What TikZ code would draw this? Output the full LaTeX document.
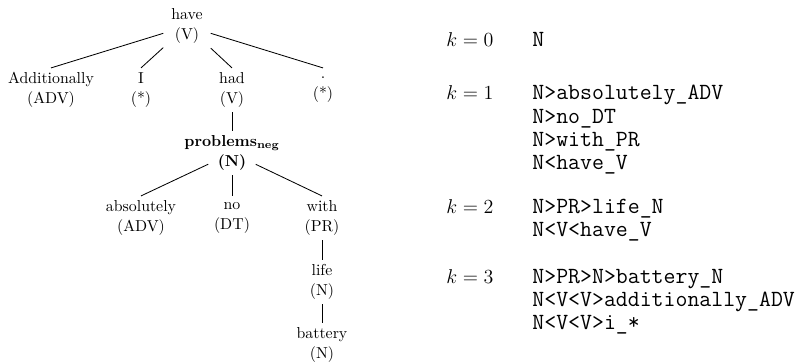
\documentclass[tikz,border=0pt]{standalone}
\usepackage{amsmath}
\usepackage{tikz}
\usetikzlibrary{positioning}
\newcommand\tk[2]{\makebox[0pt]{#1}\\\makebox[0pt]{#2}}

\begin{document}
\begin{tikzpicture}[x=0.6pt,y=-0.6pt,line width=0.5pt]
\tikzset{tok/.style={align=center,inner sep=0pt,minimum width=28pt,minimum height=26pt,font=\fontsize{9.5}{12}\selectfont},
 klab/.style={anchor=base west,inner sep=0pt,font=\fontsize{12.3}{15}\selectfont},
 pth/.style={anchor=base west,inner sep=0pt,font=\fontsize{13.9}{16}\ttfamily}}
\useasboundingbox (0,0) rectangle (796,362);
% dependency tree
\node[tok] (have) at (187,26) {\tk{have}{(V)}};
\node[tok] (add) at (51,90) {\tk{Additionally}{(ADV)}};
\node[tok] (i) at (141,90) {\tk{I}{(*)}};
\node[tok] (had) at (232,90) {\tk{had}{(V)}};
\node[tok] (dot) at (323,90) {\tk{.}{(*)}};
\node[tok] (prob) at (232,153) {\tk{\textbf{problems}$_{\textbf{neg}}$}{\textbf{(N)}}};
\node[tok] (abs) at (141,218) {\tk{absolutely}{(ADV)}};
\node[tok] (no) at (232,218) {\tk{no}{(DT)}};
\node[tok] (with) at (322,218) {\tk{with}{(PR)}};
\node[tok] (life) at (322,282) {\tk{life}{(N)}};
\node[tok] (bat) at (322,345) {\tk{battery}{(N)}};
\draw (have) -- (add.north);
\draw (have) -- (i.north);
\draw (have) -- (had.north);
\draw (have) -- (dot.north);
\draw (had) -- (prob);
\draw (prob) -- (abs.north);
\draw (prob) -- (no.north);
\draw (prob) -- (with.north);
\draw (with) -- (life);
\draw (life) -- (bat);
% paths per k
\node[klab] (k0) at (446,46.5) {$k=0$};
\node[pth] (p0a) at (532,46.5) {N};
\node[klab] (k1) at (446,99.8) {$k=1$};
\node[pth] (p1a) at (532,99.8) {N>absolutely\_ADV};
\node[pth] (p1b) at (532,123.1) {N>no\_DT};
\node[pth] (p1c) at (532,146.5) {N>with\_PR};
\node[pth] (p1d) at (532,169.8) {N<have\_V};
\node[klab] (k2) at (446,213.2) {$k=2$};
\node[pth] (p2a) at (532,213.2) {N>PR>life\_N};
\node[pth] (p2b) at (532,236.5) {N<V<have\_V};
\node[klab] (k3) at (446,283.2) {$k=3$};
\node[pth] (p3a) at (532,283.2) {N>PR>N>battery\_N};
\node[pth] (p3b) at (532,306.5) {N<V<V>additionally\_ADV};
\node[pth] (p3c) at (532,329.8) {N<V<V>i\_*};
\end{tikzpicture}
\end{document}
